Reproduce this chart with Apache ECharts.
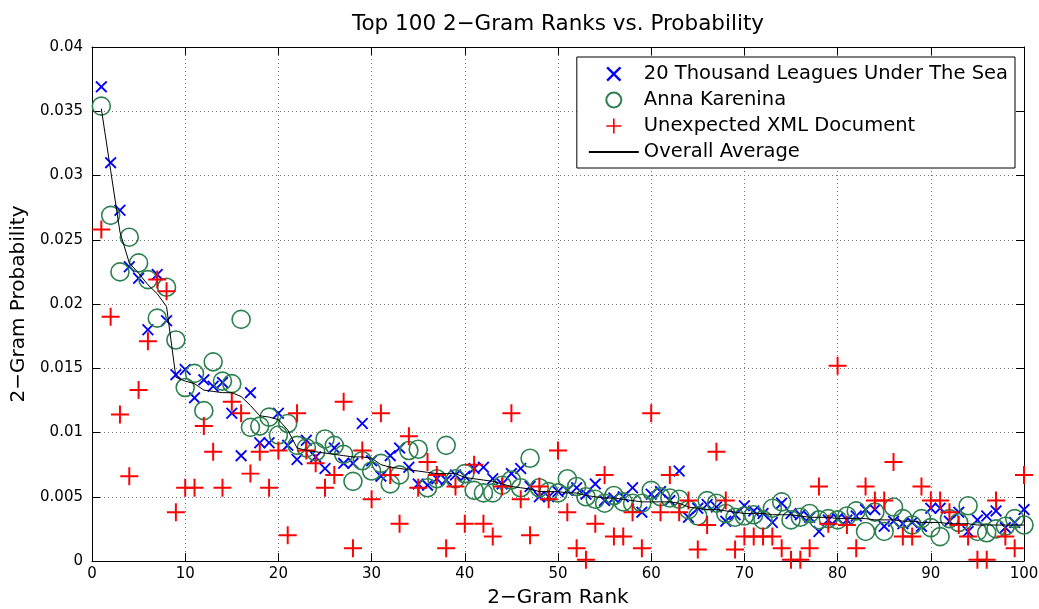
<!DOCTYPE html>
<html>
<head>
<meta charset="utf-8">
<script src="https://cdn.jsdelivr.net/npm/echarts@6/dist/echarts.min.js"></script>
<style>
  html, body { margin: 0; padding: 0; background: #fff; }
  #chart { width: 1039px; height: 609px; }
</style>
</head>
<body>
<div id="chart"></div>
<script>
// 2-gram rank (x) and probability per source text (y)
const ranks = [1,2,3,4,5,6,7,8,9,10,11,12,13,14,15,16,17,18,19,20,
  21,22,23,24,25,26,27,28,29,30,31,32,33,34,35,36,37,38,39,40,
  41,42,43,44,45,46,47,48,49,50,51,52,53,54,55,56,57,58,59,60,
  61,62,63,64,65,66,67,68,69,70,71,72,73,74,75,76,77,78,79,80,
  81,82,83,84,85,86,87,88,89,90,91,92,93,94,95,96,97,98,99,100];

const leagues = [0.0369,0.0310,0.0273,0.0229,0.0220,0.0180,0.0223,0.0187,0.0145,0.0149,
  0.0127,0.0141,0.0136,0.0139,0.0115,0.0082,0.0131,0.0092,0.0092,0.0115,
  0.0090,0.0079,0.0094,0.0081,0.0072,0.0088,0.0076,0.0076,0.0107,0.0078,
  0.0066,0.0082,0.0088,0.0073,0.0060,0.0059,0.0064,0.0063,0.0067,0.0066,
  0.0072,0.0073,0.0064,0.0060,0.0068,0.0072,0.0058,0.0050,0.0050,0.0054,
  0.0055,0.0057,0.0052,0.0060,0.0047,0.0049,0.0050,0.0057,0.0038,0.0052,
  0.0054,0.0047,0.0070,0.0034,0.0041,0.0044,0.0042,0.0031,0.0036,0.0043,
  0.0039,0.0037,0.0030,0.0045,0.0037,0.0036,0.0034,0.0023,0.0032,0.0033,
  0.0032,0.0035,0.0040,0.0040,0.0027,0.0031,0.0029,0.0030,0.0027,0.0041,
  0.0041,0.0031,0.0038,0.0023,0.0032,0.0035,0.0039,0.0026,0.0030,0.0040];

const karenina = [0.0354,0.0269,0.0225,0.0252,0.0232,0.0219,0.0189,0.0213,0.0172,0.0135,
  0.0146,0.0117,0.0155,0.0140,0.0138,0.0188,0.0104,0.0105,0.0112,0.0098,
  0.0107,0.0090,0.0088,0.0085,0.0095,0.0090,0.0083,0.0062,0.0078,0.0070,
  0.0076,0.0060,0.0067,0.0086,0.0087,0.0057,0.0064,0.0090,0.0064,0.0068,
  0.0055,0.0053,0.0053,0.0059,0.0063,0.0057,0.0080,0.0057,0.0054,0.0053,
  0.0064,0.0058,0.0050,0.0048,0.0045,0.0051,0.0046,0.0045,0.0045,0.0055,
  0.0050,0.0049,0.0048,0.0040,0.0035,0.0047,0.0045,0.0037,0.0034,0.0035,
  0.0036,0.0032,0.0041,0.0046,0.0032,0.0034,0.0037,0.0032,0.0033,0.0032,
  0.0035,0.0039,0.0023,0.0038,0.0023,0.0042,0.0033,0.0028,0.0033,0.0026,
  0.0019,0.0033,0.0030,0.0043,0.0023,0.0022,0.0025,0.0027,0.0033,0.0028];

const xmlDoc = [0.0258,0.0190,0.0114,0.0066,0.0133,0.0171,0.0219,0.0210,0.0038,0.0057,
  0.0057,0.0105,0.0085,0.0057,0.0124,0.0115,0.0068,0.0085,0.0057,0.0086,
  0.0020,0.0115,0.0086,0.0076,0.0057,0.0067,0.0124,0.0010,0.0086,0.0048,
  0.0115,0.0067,0.0029,0.0097,0.0057,0.0077,0.0067,0.0010,0.0058,0.0029,
  0.0075,0.0029,0.0019,0.0058,0.0115,0.0048,0.0020,0.0058,0.0048,0.0086,
  0.0038,0.0010,0.0001,0.0029,0.0067,0.0019,0.0019,0.0038,0.0010,0.0115,
  0.0038,0.0067,0.0038,0.0047,0.0009,0.0028,0.0085,0.0047,0.0009,0.0019,
  0.0019,0.0019,0.0019,0.0010,0.0001,0.0001,0.0010,0.0058,0.0029,0.0152,
  0.0028,0.0010,0.0058,0.0047,0.0047,0.0077,0.0019,0.0019,0.0058,0.0047,
  0.0047,0.0038,0.0028,0.0019,0.0001,0.0001,0.0047,0.0019,0.0010,0.0067];

const average = [0.0352,0.0304,0.0256,0.0232,0.0224,0.0215,0.0208,0.0198,0.0143,0.0140,
  0.0138,0.0133,0.0132,0.0131,0.0131,0.0128,0.0121,0.0113,0.0112,0.0110,
  0.0102,0.0088,0.0086,0.0085,0.0084,0.0083,0.0082,0.0081,0.0081,0.0080,
  0.0075,0.0073,0.0072,0.0071,0.0070,0.0069,0.0068,0.0068,0.0068,0.0065,
  0.0064,0.0063,0.0062,0.0060,0.0058,0.0057,0.0056,0.0054,0.0054,0.0054,
  0.0053,0.0053,0.0051,0.0050,0.0049,0.0049,0.0048,0.0047,0.0046,0.0046,
  0.0046,0.0046,0.0045,0.0042,0.0041,0.0040,0.0040,0.0039,0.0038,0.0037,
  0.0037,0.0037,0.0036,0.0036,0.0036,0.0035,0.0034,0.0034,0.0034,0.0033,
  0.0033,0.0033,0.0033,0.0032,0.0032,0.0032,0.0031,0.0031,0.0030,0.0030,
  0.0030,0.0029,0.0029,0.0029,0.0028,0.0028,0.0028,0.0028,0.0028,0.0028];

const seriesNames = ['20 Thousand Leagues Under The Sea', 'Anna Karenina',
  'Unexpected XML Document', 'Overall Average'];

const FONT = 'DejaVu Sans';
const CROSS = 'path://M0,1.1L1.1,0L5,3.9L8.9,0L10,1.1L6.1,5L10,8.9L8.9,10L5,6.1L1.1,10L0,8.9L3.9,5Z';
const PLUS = 'path://M4.45,0H5.55V4.45H10V5.55H5.55V10H4.45V5.55H0V4.45H4.45Z';
const GREEN = '#2d8050';

const pairs = vals => ranks.map((r, i) => [r, vals[i]]);

const gridLine = { show: true, lineStyle: { color: '#777', width: 1, type: [1, 3] } };
const axisLineStyle = { show: true, onZero: false, lineStyle: { color: '#000', width: 1 } };
const tickStyle = { show: true, inside: true, length: 8, lineStyle: { color: '#000', width: 1 } };

const chart = echarts.init(document.getElementById('chart'), null, { renderer: 'canvas' });
chart.setOption({
  animation: false,
  backgroundColor: '#fff',
  title: {
    text: 'Top 100 2\u2212Gram Ranks vs. Probability',
    left: 558, top: 13, padding: 0, textAlign: 'center',
    textStyle: { fontFamily: FONT, fontSize: 21.5, fontWeight: 'normal', color: '#000' }
  },
  grid: { left: 92, right: 15, top: 47, bottom: 48, containLabel: false, outerBoundsMode: 'none' },
  legend: {
    orient: 'vertical', right: 24, top: 57,
    align: 'left',
    data: [
      { name: seriesNames[0] },
      { name: seriesNames[1] },
      { name: seriesNames[2] },
      { name: seriesNames[3], itemStyle: { color: 'rgba(0,0,0,0)', borderColor: 'rgba(0,0,0,0)', borderWidth: 0 } }
    ],
    itemWidth: 50, itemHeight: 15, itemGap: 6,
    padding: [7, 7, 6, 11],
    backgroundColor: '#fff', borderColor: '#000', borderWidth: 1,
    textStyle: { fontFamily: FONT, fontSize: 19.5, color: '#000', lineHeight: 20 },
    selectedMode: false
  },
  xAxis: [{
    type: 'value', position: 'bottom', min: 0, max: 100, interval: 10,
    name: '2\u2212Gram Rank', nameLocation: 'middle', nameGap: 27,
    nameTextStyle: { fontFamily: FONT, fontSize: 20, color: '#000' },
    axisLine: axisLineStyle, axisTick: tickStyle,
    axisLabel: { margin: 6, fontFamily: FONT, fontSize: 15, color: '#000' },
    splitLine: gridLine
  }, {
    type: 'value', position: 'top', min: 0, max: 100, interval: 10,
    axisLine: axisLineStyle, axisTick: tickStyle,
    axisLabel: { show: false }, splitLine: { show: false }
  }],
  yAxis: [{
    type: 'value', position: 'left', min: 0, max: 0.04, interval: 0.005,
    name: '2\u2212Gram Probability', nameLocation: 'middle', nameGap: 60,
    nameTextStyle: { fontFamily: FONT, fontSize: 20, color: '#000' },
    axisLine: axisLineStyle, axisTick: tickStyle,
    axisLabel: {
      margin: 9, fontFamily: FONT, fontSize: 15, color: '#000',
      formatter: v => String(+v.toFixed(3))
    },
    splitLine: gridLine
  }, {
    type: 'value', position: 'right', min: 0, max: 0.04, interval: 0.005,
    axisLine: axisLineStyle, axisTick: tickStyle,
    axisLabel: { show: false }, splitLine: { show: false }
  }],
  series: [{
    name: seriesNames[0], type: 'scatter', data: pairs(leagues),
    symbol: CROSS, symbolSize: 12,
    itemStyle: { color: '#0000ff', opacity: 1 },
    emphasis: { disabled: true }
  }, {
    name: seriesNames[1], type: 'scatter', data: pairs(karenina),
    symbol: 'circle', symbolSize: 18,
    itemStyle: { color: 'rgba(0,0,0,0)', borderColor: GREEN, borderWidth: 1.6, opacity: 1 },
    emphasis: { disabled: true }
  }, {
    name: seriesNames[2], type: 'scatter', data: pairs(xmlDoc),
    symbol: PLUS, symbolSize: 18,
    itemStyle: { color: '#ff0000', opacity: 1 },
    emphasis: { disabled: true }
  }, {
    name: seriesNames[3], type: 'line', data: pairs(average),
    symbol: 'none', showSymbol: false,
    lineStyle: { color: '#000', width: 1 },
    itemStyle: { color: '#000' },
    emphasis: { disabled: true }
  }]
});
</script>
</body>
</html>
